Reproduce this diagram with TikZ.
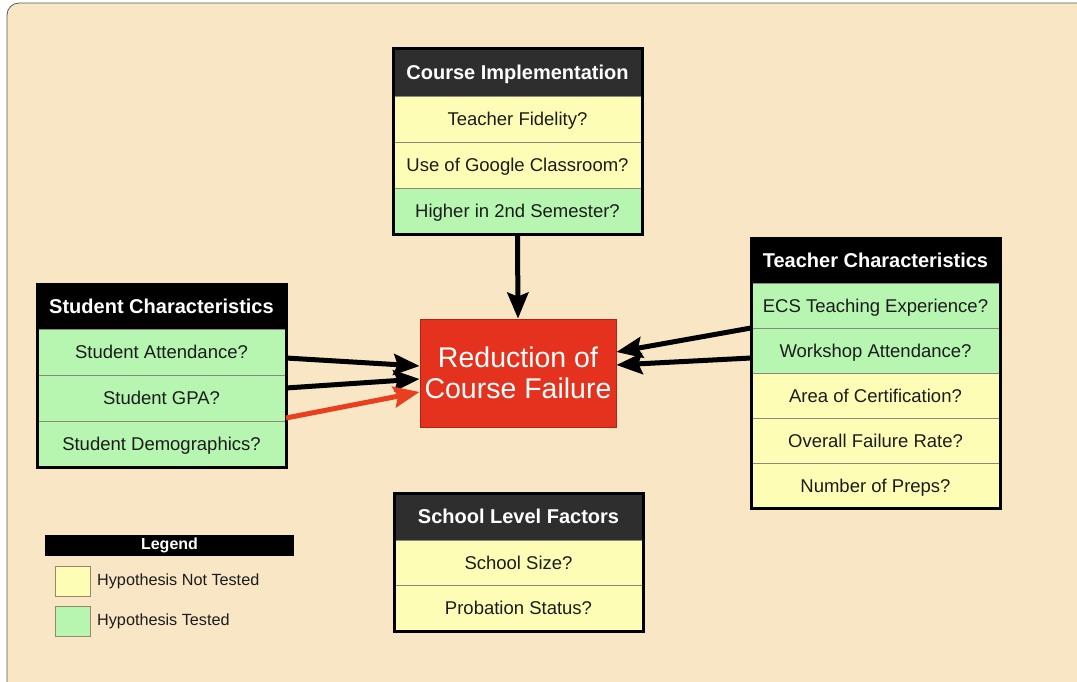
\documentclass[tikz,border=0pt]{standalone}
\usepackage{fontspec}
\setmainfont{Liberation Sans}
\usetikzlibrary{arrows.meta,fit}

\definecolor{bgcream}{HTML}{F9E6C4}
\definecolor{hypyel}{HTML}{FDFDB5}
\definecolor{hypgrn}{HTML}{B6F6B0}
\definecolor{hdrgray}{HTML}{2E2E2E}
\definecolor{goalred}{HTML}{E5321F}
\definecolor{linkred}{HTML}{E8401F}
\definecolor{sepgray}{HTML}{8A8A7A}
\definecolor{inktext}{HTML}{1C1C1C}

\tikzset{
  hdr/.style={fill=black, text=white, inner sep=0pt, outer sep=0pt, anchor=north west,
    minimum width=249pt, minimum height=46pt,
    font=\bfseries\fontsize{20}{23}\selectfont, text height=14.2pt, text depth=0pt},
  row/.style={draw=sepgray, line width=0.6pt, inner sep=0pt, outer sep=0pt, anchor=north west,
    minimum width=249pt, minimum height=46pt, text=inktext,
    font=\fontsize{18.5}{22}\selectfont, text height=13.2pt, text depth=0pt},
  untested/.style={row, fill=hypyel},
  tested/.style={row, fill=hypgrn},
  frame/.style={draw=black, line width=3pt, inner sep=0pt, outer sep=0pt, fill=none},
  link/.style={line width=5pt, -{Stealth[length=26pt,width=21pt,inset=4pt]}},
  swatch/.style={draw=sepgray!70!brown, line width=0.8pt, minimum width=35pt,
    minimum height=30pt, inner sep=0pt, outer sep=0pt, anchor=north west},
  legtext/.style={anchor=west, text=inktext, inner sep=0pt,
    font=\fontsize{16.2}{19}\selectfont}
}

\begin{document}
\begin{tikzpicture}[x=1pt,y=-1pt]
  % page and cream panel
  \fill[white] (0,0) rectangle (1077,681);
  \clip (0,0) rectangle (1077,681);
  \draw[fill=bgcream, draw=gray!70!black, line width=0.8pt, rounded corners=12pt]
    (7,3) rectangle (1110,720);

  % Course Implementation
  \node[hdr, fill=hdrgray, minimum height=48pt] (ci) at (393,48) {Course Implementation};
  \node[untested] (ci1) at (ci.south west) {Teacher Fidelity?};
  \node[untested] (ci2) at (ci1.south west) {Use of Google Classroom?};
  \node[tested]   (ci3) at (ci2.south west) {Higher in 2nd Semester?};
  \node[frame, fit=(ci)(ci3)] (ciframe) {};

  % Student Characteristics
  \node[hdr, minimum height=45pt] (sc) at (37,284) {Student Characteristics};
  \node[tested] (sc1) at (sc.south west) {Student Attendance?};
  \node[tested] (sc2) at (sc1.south west) {Student GPA?};
  \node[tested] (sc3) at (sc2.south west) {Student Demographics?};
  \node[frame, fit=(sc)(sc3)] (scframe) {};

  % Teacher Characteristics
  \node[hdr, minimum height=45pt] (tc) at (751,238) {Teacher Characteristics};
  \node[tested, minimum height=45pt]   (tc1) at (tc.south west) {ECS Teaching Experience?};
  \node[tested, minimum height=45pt]   (tc2) at (tc1.south west) {Workshop Attendance?};
  \node[untested, minimum height=45pt] (tc3) at (tc2.south west) {Area of Certification?};
  \node[untested, minimum height=45pt] (tc4) at (tc3.south west) {Overall Failure Rate?};
  \node[untested, minimum height=45pt] (tc5) at (tc4.south west) {Number of Preps?};
  \node[frame, fit=(tc)(tc5)] (tcframe) {};

  % School Level Factors
  \node[hdr, fill=hdrgray, minimum height=47pt] (sl) at (394,493) {School Level Factors};
  \node[untested, minimum height=45.5pt] (sl1) at (sl.south west) {School Size?};
  \node[untested, minimum height=45.5pt] (sl2) at (sl1.south west) {Probation Status?};
  \node[frame, fit=(sl)(sl2)] (slframe) {};

  % outcome
  \node[fill=goalred, draw=goalred!75!black, line width=0.8pt,
        minimum width=196pt, minimum height=108pt, inner sep=0pt,
        text=white, align=center, font=\fontsize{28.5}{31}\selectfont]
        (goal) at (518,373) {Reduction of\\Course Failure};

  % links into the outcome
  \draw[link] (ci3.south) -- (goal.north);
  \draw[link] ([yshift=-6pt]sc1.east) -- ([yshift=7pt]goal.west);
  \draw[link] ([yshift=10pt]sc2.east) -- ([yshift=-6pt]goal.west);
  \draw[link, draw=linkred, fill=linkred] ([yshift=3pt]sc2.south east) -- ([yshift=-19pt]goal.west);
  \draw[link] (tc1.south west) -- ([yshift=21pt]goal.east);
  \draw[link] ([yshift=-7.5pt]tc2.west) -- ([yshift=8pt]goal.east);

  % legend
  \node[fill=black, text=white, inner sep=0pt, outer sep=0pt, anchor=north west,
        minimum width=249pt, minimum height=21pt,
        font=\bfseries\fontsize{16}{19}\selectfont] (leg) at (45,535) {Legend};
  \node[swatch, fill=hypyel] (swy) at (55,566) {};
  \node[swatch, fill=hypgrn] (swg) at (55,606) {};
  \node[legtext] (ly) at ([xshift=7pt]swy.east) {Hypothesis Not Tested};
  \node[legtext] (lg) at ([xshift=7pt]swg.east) {Hypothesis Tested};
\end{tikzpicture}
\end{document}
